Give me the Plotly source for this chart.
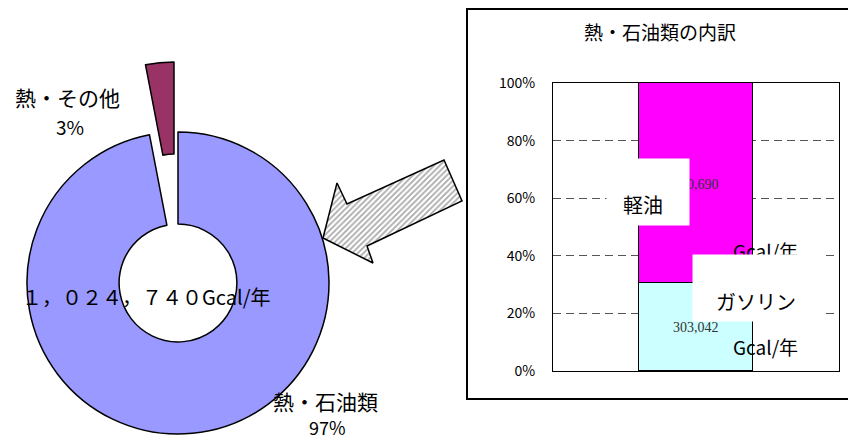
import plotly.graph_objects as go

W, H = 848, 442

# ---- data ----
donut_labels = ["熱・石油類", "熱・その他"]
donut_values = [993732, 31008]
donut_unit = "Gcal/年"

bar_category = ["熱・石油類"]
bar_series = ["ガソリン", "軽油"]
gasoline_values = [303042]
diesel_values = [690690]
y_ticks = [0, 20, 40, 60, 80, 100]
y_ticklabels = ["0%", "20%", "40%", "60%", "80%", "100%"]

# ---- helpers ----
def px(x):
    return x / W

def py(y):
    return 1 - y / H

def fullwidth(s):
    return s.translate(str.maketrans("0123456789,", "０１２３４５６７８９，"))

JP = "Noto Sans CJK JP"
SERIF = "Liberation Serif"

fig = go.Figure()

# main donut (97% slice)
cx, cy, R = 178, 283, 151
fig.add_trace(go.Pie(
    labels=donut_labels, values=donut_values, sort=False,
    direction="clockwise", rotation=0, hole=0.39,
    marker=dict(colors=["#9999FF", "rgba(0,0,0,0)"],
                line=dict(color="black", width=[1.5, 0])),
    textinfo="none", hoverinfo="skip", showlegend=False,
    domain=dict(x=[px(cx - R), px(cx + R)], y=[py(cy + R), py(cy - R)]),
))
# exploded 3% slice
ex, ey = cx - 4, cy - 70
fig.add_trace(go.Pie(
    labels=donut_labels, values=donut_values, sort=False,
    direction="clockwise", rotation=0, hole=0.39,
    marker=dict(colors=["rgba(0,0,0,0)", "#993366"],
                line=dict(color="black", width=[0, 1.5])),
    textinfo="none", hoverinfo="skip", showlegend=False,
    domain=dict(x=[px(ex - R), px(ex + R)], y=[py(ey + R), py(ey - R)]),
))

# stacked 100% bar
fig.add_trace(go.Bar(
    x=bar_category, y=gasoline_values, name=bar_series[0],
    marker=dict(color="#CCFFFF", line=dict(color="black", width=1)),
    width=0.4, hoverinfo="skip", showlegend=False,
))
fig.add_trace(go.Bar(
    x=bar_category, y=diesel_values, name=bar_series[1],
    marker=dict(color="#FF00FF", line=dict(color="black", width=1)),
    width=0.4, hoverinfo="skip", showlegend=False,
))

# hatched arrow (decoration) on an overlay axis in pixel units
arrow_x = [323, 337, 347, 444, 462, 367, 373, 323]
arrow_y = [238, 183, 204, 160, 201, 246, 263, 238]
fig.add_trace(go.Scatter(
    x=arrow_x, y=arrow_y, xaxis="x3", yaxis="y3", mode="lines",
    fill="toself", fillcolor="white",
    fillpattern=dict(shape="/", fgcolor="#555555", bgcolor="white",
                     size=4, solidity=0.45),
    line=dict(color="black", width=1.5),
    hoverinfo="skip", showlegend=False,
))

fig.update_layout(
    width=W, height=H,
    margin=dict(l=0, r=0, t=0, b=0, pad=0, autoexpand=False),
    showlegend=False,
    paper_bgcolor="white", plot_bgcolor="rgba(0,0,0,0)",
    barmode="stack", barnorm="percent", bargap=0,
    font=dict(family=JP, color="black"),
    xaxis=dict(domain=[px(553), px(839)], showticklabels=False,
               showline=True, linecolor="black", linewidth=1, mirror=True,
               showgrid=False, ticks="", automargin=False),
    yaxis=dict(domain=[py(371), py(83)], range=[0, 100],
               tickvals=y_ticks, ticktext=y_ticklabels,
               tickfont=dict(family=JP, size=14, color="black"),
               ticks="", ticklabelstandoff=14, automargin=False,
               showline=True, linecolor="black", linewidth=1, mirror=True,
               showgrid=True, gridcolor="#555555", griddash="8px,5px",
               gridwidth=1, zeroline=False),
    xaxis3=dict(domain=[0, 1], range=[0, W], visible=False, fixedrange=True,
                anchor="y3", automargin=False),
    yaxis3=dict(domain=[0, 1], range=[H, 0], visible=False, fixedrange=True,
                anchor="x3", automargin=False),
)

# panel frame
fig.add_shape(type="rect", xref="paper", yref="paper",
              x0=px(467), x1=px(852), y0=py(399), y1=py(9),
              line=dict(color="black", width=2), fillcolor="rgba(0,0,0,0)",
              layer="above")

def ann(text, x, y, size, family=JP, color="black", **kw):
    fig.add_annotation(text=text, x=px(x), y=py(y), xref="paper", yref="paper",
                       showarrow=False, font=dict(family=family, size=size, color=color),
                       xanchor="center", yanchor="middle", **kw)

total = sum(donut_values)
# donut labels
ann(donut_labels[1], 67, 97, 21)
ann(f"{round(100*donut_values[1]/total)}%", 70, 126, 19)
ann(donut_labels[0], 325, 401, 21)
ann(f"{round(100*donut_values[0]/total)}%", 327, 427, 18)
ann(fullwidth(f"{total:,}") + donut_unit, 146, 296, 20)

# bar panel title
ann("熱・石油類の内訳", 660, 32, 19)

# bar data labels (z-order by order of creation)
ann(f"{diesel_values[0]:,}", 696, 184, 14, family=SERIF, color="#333333")
ann("Gcal/年", 765, 250, 19)
ann(" ", 648, 192, 10, bgcolor="white", width=80, height=64)
ann(bar_series[1], 643, 204, 20)
ann(" ", 757, 288, 10, bgcolor="white", width=126, height=64)
ann(bar_series[0], 756, 301, 20)
ann(f"{gasoline_values[0]:,}", 696, 327, 14, family=SERIF, color="#333333")
ann("Gcal/年", 765, 346, 19)

fig.write_html("out.html")
